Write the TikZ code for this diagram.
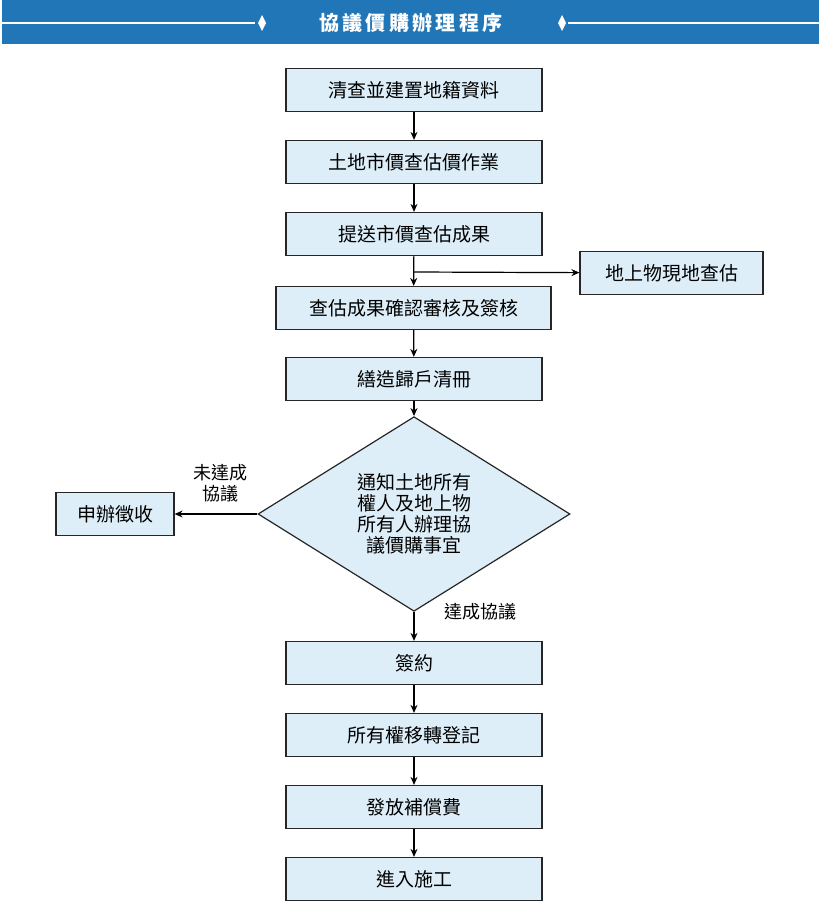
\documentclass[tikz,border=0pt]{standalone}
\usepackage{fontspec}
\setmainfont{Noto Sans CJK TC}
\usetikzlibrary{shapes.geometric,arrows.meta}
\definecolor{hdr}{HTML}{2176B8}
\definecolor{boxfill}{HTML}{DDEEF8}
\begin{document}
\begin{tikzpicture}[x=1pt,y=-1pt,
  stepbox/.style={draw=black!85,fill=boxfill,line width=1.2pt,minimum width=256pt,minimum height=43pt,font=\fontsize{19}{22}\selectfont,inner sep=0pt},
  arr/.style={-{Stealth[length=8pt,width=7pt]},line width=1.2pt},
  lbl/.style={font=\fontsize{18}{21}\selectfont,align=center}]
\useasboundingbox (0,0) rectangle (819,923);
\fill[hdr] (2,0) rectangle (819,44);
\draw[white,line width=2.5pt] (2,23) -- (255,23);
\draw[white,line width=2.5pt] (568,23) -- (819,23);
\fill[white] (262,15) -- (266,23) -- (262,31) -- (258,23) -- cycle;
\fill[white] (562,15) -- (566,23) -- (562,31) -- (558,23) -- cycle;
\node[white,font=\bfseries\fontsize{20}{22}\selectfont] (title) at (411,23) {協\,議\,價\,購\,辦\,理\,程\,序};
\node[stepbox] (a) at (414,90) {清查並建置地籍資料};
\node[stepbox] (b) at (414,162) {土地市價查估價作業};
\node[stepbox] (c) at (414,234) {提送市價查估成果};
\node[stepbox,minimum width=275pt] (d) at (413.5,308) {查估成果確認審核及簽核};
\node[stepbox] (e) at (414,379) {繕造歸戶清冊};
\node[draw=black!85,fill=boxfill,line width=1.2pt,diamond,minimum width=312pt,minimum height=168pt,inner sep=0pt,lbl,font=\fontsize{19}{21}\selectfont] (f) at (414,514) {通知土地所有\\權人及地上物\\所有人辦理協\\議價購事宜};
\node[stepbox] (g) at (414,663) {簽約};
\node[stepbox] (h) at (414,735) {所有權移轉登記};
\node[stepbox] (i) at (414,807) {發放補償費};
\node[stepbox] (j) at (414,879) {進入施工};
\node[stepbox,minimum width=183pt] (r) at (671.5,273) {地上物現地查估};
\node[stepbox,minimum width=118pt] (s) at (115,514) {申辦徵收};
\coordinate (br) at (414,272);
\draw[arr] (a) -- (b);
\draw[arr] (b) -- (c);
\draw[arr] (c) -- (d);
\draw[arr] (br) -- (r);
\draw[arr] (d) -- (e);
\draw[arr] (e) -- (f);
\draw[arr] (f) -- (g);
\draw[arr] (g) -- (h);
\draw[arr] (h) -- (i);
\draw[arr] (i) -- (j);
\draw[arr] (f.west) -- (s);
\node[lbl] (l1) at (220,483) {未達成\\協議};
\node[lbl] (l2) at (480,612) {達成協議};
\end{tikzpicture}
\end{document}
